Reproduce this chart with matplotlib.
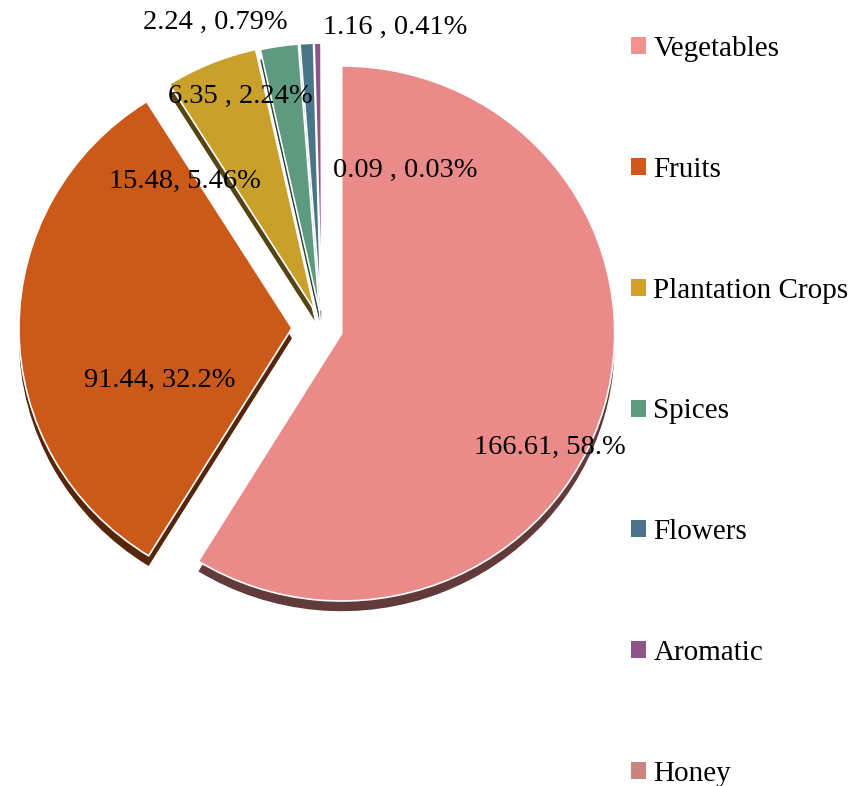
import matplotlib.pyplot as plt
from matplotlib.patches import Patch
from matplotlib.colors import to_rgb
import numpy as np

# ── данные ───────────────────────────────────────────────────────────────
categories = ['Vegetables', 'Fruits', 'Plantation Crops', 'Spices',
              'Flowers', 'Aromatic', 'Honey']
values = [166.61, 91.44, 15.48, 6.35, 2.24, 1.16, 0.09]
label_texts = ['166.61, 58.%', '91.44, 32.2%', '15.48, 5.46%', '6.35 , 2.24%',
               '2.24 , 0.79%', '1.16 , 0.41%', '0.09 , 0.03%']

# ── оформление ───────────────────────────────────────────────────────────
slice_colors = ['#EA8B8A', '#CB5A1A', '#C9A12A', '#5E9A80',
                '#4A7488', '#8D5489', '#C98582']
legend_colors = ['#F29190', '#D0581A', '#CFA128', '#5F9A7E',
                 '#4A7388', '#8E5389', '#C98582']
explode = [0.075, 0.11, 0.07, 0.065, 0.065, 0.065, 0.065]
# позиции подписей в пикселях (центр текста)
label_pos = [(550, 447), (160, 380), (185, 181), (240, 96),
             (215, 22), (395, 27), (405, 170)]

W, H = 864, 786
cx, cy, R = 322, 328, 273   # центр и радиус круга в пикселях
k = 0.98                    # лёгкий наклон круга (сжатие по вертикали)

plt.rcParams['font.family'] = ['Liberation Serif', 'DejaVu Serif']
FS = 20.5

fig = plt.figure(figsize=(W / 100, H / 100), dpi=100)
ax = fig.add_axes([0, 0, 1, 1])

# "объём" — тёмная подложка, сдвинутая вниз
dark = [tuple(np.array(to_rgb(c)) * 0.42) for c in slice_colors]
ax.pie(values, explode=explode, colors=dark, startangle=90, counterclock=False,
       center=(0.0, -0.038), wedgeprops=dict(linewidth=0))
ax.pie(values, explode=explode, colors=slice_colors, startangle=90,
       counterclock=False, wedgeprops=dict(edgecolor='white', linewidth=1.2))

ax.set_aspect('auto')
ax.set_xlim(-cx / R, (W - cx) / R)
ax.set_ylim(-(H - cy) / (R * k), cy / (R * k))
ax.axis('off')

for txt, (px, py) in zip(label_texts, label_pos):
    fig.text(px / W, 1 - py / H, txt, ha='center', va='center',
             fontsize=FS, color='black')

handles = [Patch(facecolor=c, edgecolor='none') for c in legend_colors]
fig.legend(handles, categories, loc='upper left', bbox_to_anchor=(631 / W, 1 - 36 / H),
           frameon=False, fontsize=21, handlelength=0.52, handleheight=0.52,
           handletextpad=0.25, labelspacing=3.25, borderpad=0, borderaxespad=0)

fig.savefig('out.png', dpi=100)
